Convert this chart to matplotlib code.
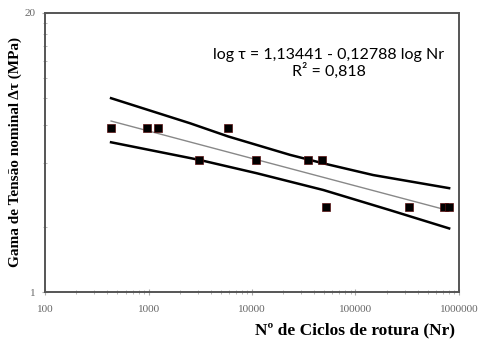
import matplotlib
matplotlib.use("Agg")
import matplotlib.pyplot as plt
import numpy as np
from matplotlib.ticker import FixedLocator, NullFormatter, LogLocator

# fatigue test results
ciclos = [434, 973, 1245, 5900, 3100, 10860, 35000, 47700, 51900, 331000, 721000, 805000]
tensao = [5.8, 5.8, 5.8, 5.8, 4.13, 4.13, 4.13, 4.13, 2.48, 2.48, 2.48, 2.48]

# regression: log tau = a + b log Nr
a, b = 1.13441, -0.12788
r2 = 0.818

# confidence bands
banda_sup_n = [434, 2518, 5900, 23300, 48900, 148600, 805000]
banda_sup_t = [8.01, 6.12, 5.31, 4.36, 3.98, 3.51, 3.05]
banda_inf_n = [434, 3100, 11100, 48900, 215000, 805000]
banda_inf_t = [4.99, 4.13, 3.58, 2.99, 2.41, 1.98]

serif = 'Liberation Serif'

fig = plt.figure(figsize=(4.8, 3.4), dpi=100)
ax = fig.add_axes([0.094, 0.141, 0.862, 0.821])

nr = np.logspace(np.log10(min(ciclos)), np.log10(max(ciclos)), 50)
ax.plot(nr, 10 ** (a + b * np.log10(nr)), color='#888888', lw=1.0)
ax.plot(banda_sup_n, banda_sup_t, color='black', lw=1.8, solid_joinstyle='round')
ax.plot(banda_inf_n, banda_inf_t, color='black', lw=1.8, solid_joinstyle='round')
ax.plot(ciclos, tensao, 's', color='black', markersize=5.5,
        markeredgecolor='#5a1010', markeredgewidth=0.5, zorder=5)

ax.set_xscale('log')
ax.set_yscale('log')
ax.set_xlim(100, 1e6)
ax.set_ylim(1, 20)

ax.yaxis.set_major_locator(FixedLocator([1, 20]))
ax.yaxis.set_minor_locator(FixedLocator([2, 4, 6, 8, 10, 12, 14, 16, 18]))
ax.yaxis.set_minor_formatter(NullFormatter())
ax.set_yticklabels(['1', '20'])
ax.xaxis.set_major_locator(LogLocator(base=10))
ax.xaxis.set_minor_locator(LogLocator(base=10, subs=np.arange(2, 10)))
ax.xaxis.set_minor_formatter(NullFormatter())
ax.set_xticks([100, 1000, 10000, 100000, 1000000])
ax.set_xticklabels(['100', '1000', '10000', '100000', '1000000'])

for s in ax.spines.values():
    s.set_color('#555555')
    s.set_linewidth(1.4)
ax.tick_params(which='both', direction='inout', color='#aaaaaa', labelcolor='#666666',
               labelsize=8)
ax.tick_params(which='major', length=4)
ax.tick_params(which='minor', length=3)
ax.tick_params(axis='x', pad=7)
ax.tick_params(axis='y', pad=5)
for lab in ax.get_xticklabels() + ax.get_yticklabels():
    lab.set_family(serif)

ax.set_xlabel('Nº de Ciclos de rotura (Nr)', family=serif, fontweight='bold', fontsize=12.5)
ax.xaxis.set_label_coords(0.75, -0.11)
ax.set_ylabel('Gama de Tensão nominal Δτ (MPa)', family=serif, fontweight='bold', fontsize=11)
ax.yaxis.set_label_coords(-0.056, 0.5)

ax.text(0.685, 0.819, 'log τ = 1,13441 - 0,12788 log Nr\nR² = 0,818',
        transform=ax.transAxes, ha='center', va='center', fontsize=11.5,
        family='Lato', linespacing=1.05, multialignment='center')

fig.savefig('out.png', dpi=100)
